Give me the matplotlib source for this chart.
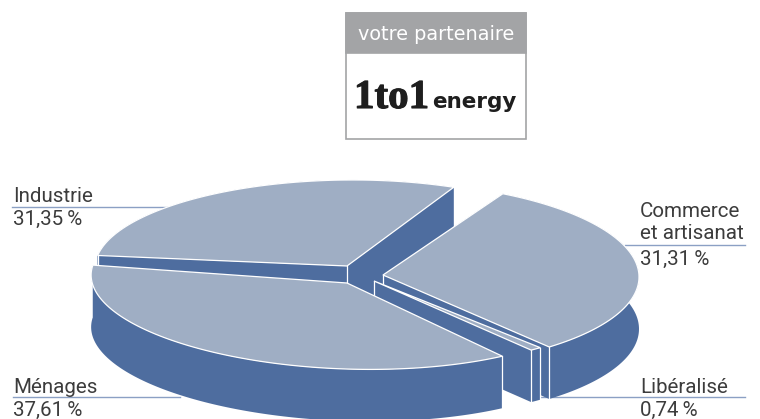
import numpy as np
import matplotlib
matplotlib.use('Agg')
import matplotlib.pyplot as plt
import matplotlib.patheffects as pe
from matplotlib.patches import Rectangle

# parts de marche, dans l'ordre du camembert
categories = ['Ménages', 'Libéralisé', 'Commerce\net artisanat', 'Industrie']
values = [37.61, 0.74, 31.31, 31.35]
value_labels = ['37,61\u2009%', '0,74\u2009%', '31,31\u2009%', '31,35\u2009%']

TOP = '#9faec4'
SIDE = '#4e6d9f'
TEXT = '#3c3c3c'

# pie geometry in pixels: apex x, apex y, rx, ry, tilt (deg), trim (deg)
shape = {'Industrie': (347, 266, 252, 86, -0.5, 2.5),
         'Commerce\net artisanat': (383, 275, 256, 93, 0.5, 0),
         'Libéralisé': (374, 281, 256, 86, 0.5, 0),
         'Ménages': (347, 283, 256, 86, 2.0, 0)}
DEPTH = 52
START = 174.0


def slice_outline(cat, a0, a1):
    cx, cy, rx, ry, tilt, trim = shape[cat]
    t = np.radians(np.linspace(a0 + trim, a1 - trim, 120))
    tilt = np.radians(tilt)
    u = rx * np.cos(t)
    v = -ry * np.sin(t)
    return (cx + u * np.cos(tilt) - v * np.sin(tilt),
            cy + u * np.sin(tilt) + v * np.cos(tilt))


fig = plt.figure(figsize=(7.6, 4.19), dpi=100)
ax = fig.add_axes([0, 0, 1, 1])
ax.set_xlim(0, 760)
ax.set_ylim(419, 0)
ax.axis('off')

# leader lines go under the pie
leaders = [((13, 180), 397), ((540, 745), 397), ((625, 745), 245), ((12, 180), 207)]
for (x0, x1), y in leaders:
    ax.plot([x0, x1], [y, y], color='#8ba0c4', lw=1.0, zorder=1)

# angle of each slice from its share
spans = np.array(values) / sum(values) * 360
ends = START + np.cumsum(spans)
starts = ends - spans

z = 2
for i in [3, 2, 1, 0]:
    cat = categories[i]
    x, y = slice_outline(cat, starts[i], ends[i])
    cx, cy = shape[cat][:2]
    # extruded body: outer wall then the two cut faces
    ax.fill(np.r_[x, x[::-1]], np.r_[y, y[::-1] + DEPTH], color=SIDE, lw=0, zorder=z)
    for px, py in [(x[0], y[0]), (x[-1], y[-1])]:
        ax.fill([cx, px, px, cx], [cy, py, py + DEPTH, cy + DEPTH], color=SIDE, lw=0, zorder=z)
    # vertical edges
    corners = [(cx, cy), (x[-1], y[-1])]
    if cat != 'Ménages':
        corners.append((x[0], y[0]))
    for px, py in corners:
        ax.plot([px, px], [py, py + DEPTH], color='white', lw=0.9, zorder=z + 0.1)
    ax.fill(np.r_[cx, x], np.r_[cy, y], facecolor=TOP, edgecolor='white', lw=0.9, zorder=z + 0.2)
    z += 1

# labels
lab_pos = {'Industrie': (13, 205.5, 210), 'Commerce\net artisanat': (640, 243, 250),
           'Libéralisé': (640, 396.5, 401), 'Ménages': (13, 396.5, 401)}
for cat, val in zip(categories, value_labels):
    x, y0, y1 = lab_pos[cat]
    ax.text(x, y0, cat, family='Roboto', fontsize=14.8, color=TEXT, va='bottom', ha='left',
            linespacing=1.2, zorder=20)
    ax.text(x, y1, val, family='Roboto', fontsize=14.8, color=TEXT, va='top', ha='left', zorder=20)

# encadre logo
ax.add_patch(Rectangle((346, 13), 180, 126, fc='white', ec='#a3a4a6', lw=1.2, zorder=5))
ax.add_patch(Rectangle((346, 13), 180, 40, fc='#a3a4a6', ec='#a3a4a6', lw=1.2, zorder=6))
ax.text(436, 34, 'votre partenaire', family='DejaVu Sans', fontsize=13.9, color='white',
        ha='center', va='center', zorder=7)
ax.text(354, 108, '1to1', family='Liberation Serif', fontweight='bold', fontsize=29.5, color='#1e1e1e',
        ha='left', va='baseline', zorder=7,
        path_effects=[pe.withStroke(linewidth=0.8, foreground='#1e1e1e')])
ax.text(432, 108, 'energy', family='DejaVu Sans', fontweight='bold', fontsize=15.5, color='#1e1e1e',
        ha='left', va='baseline', zorder=7)

fig.savefig('out.png', dpi=100)
